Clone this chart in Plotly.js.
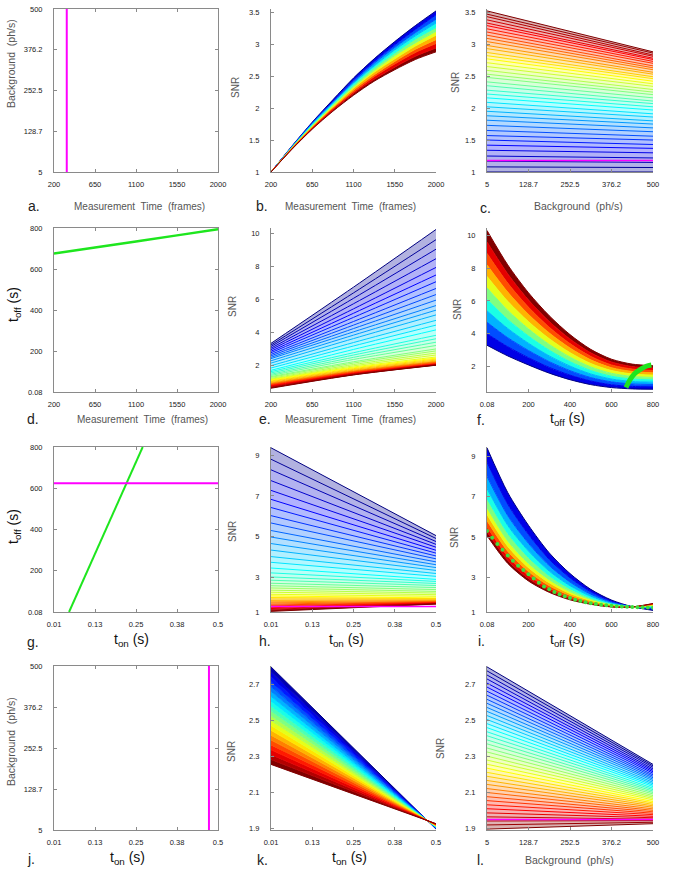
<!DOCTYPE html>
<html><head><meta charset="utf-8">
<script src="https://cdn.plot.ly/plotly-3.0.1.min.js"></script>
<style>html,body{margin:0;padding:0;background:#fff;}#chart{width:673px;height:877px;}</style>
</head><body><div id="chart"></div>
<script>
// ---------- tick sets ----------
const timeTicks=[200,650,1100,1550,2000], timeText=['200','650','1100','1550','2000'];
const bgTicks=[5,128.75,252.5,376.25,500], bgText=['5','128.7','252.5','376.2','500'];
const offTicks=[0.08,200.06,400.04,600.02,800], offText=['0.08','200','400','600','800'];
const onTicks=[0.01,0.1325,0.255,0.3775,0.5], onText=['0.01','0.13','0.25','0.38','0.5'];
const snrTicks1=[1,1.5,2,2.5,3,3.5], snrText1=['1','1.5','2','2.5','3','3.5'];
const snrTicks2=[2,4,6,8,10], snrText2=['2','4','6','8','10'];
const snrTicks3=[1.3,3,5,7,9], snrText3=['1','3','5','7','9'];
const snrTicks4=[1.9,2.1,2.3,2.5,2.7], snrText4=['1.9','2.1','2.3','2.5','2.7'];

// ---------- panel a ----------
const aTime=[340,340], aBg=[5,500];
// ---------- panel b : SNR vs measurement time, one line per background ----------
const bTime=[200,425,650,875,1100,1325,1550,1775,2000];
const bSNR=[
[1.00,1.40,1.78,2.13,2.47,2.77,3.04,3.29,3.52],
[1.00,1.395,1.77,2.11,2.44,2.73,2.99,3.23,3.46],
[1.00,1.39,1.76,2.09,2.41,2.70,2.95,3.18,3.39],
[1.00,1.385,1.75,2.08,2.39,2.66,2.91,3.13,3.33],
[1.00,1.38,1.74,2.06,2.36,2.63,2.86,3.08,3.26],
[1.00,1.375,1.725,2.04,2.33,2.59,2.82,3.02,3.20],
[1.00,1.37,1.71,2.02,2.31,2.56,2.77,2.97,3.14],
[1.00,1.365,1.70,2.00,2.28,2.52,2.73,2.92,3.07],
[1.00,1.36,1.69,1.99,2.25,2.49,2.69,2.87,3.01],
[1.00,1.355,1.68,1.97,2.23,2.45,2.64,2.81,2.94],
[1.00,1.35,1.67,1.95,2.20,2.42,2.60,2.76,2.88]];
// ---------- panel c : SNR vs background, one line per measurement time ----------
const cBg=[5,500];
const cLeft=[1.00,1.08,1.17,1.25,1.34,1.42,1.50,1.57,1.65,1.73,1.81,1.88,1.95,2.02,2.09,2.16,2.22,2.28,2.35,2.41,2.48,2.53,2.59,2.65,2.71,2.77,2.82,2.87,2.93,2.98,3.04,3.09,3.14,3.19,3.24,3.29,3.33,3.38,3.43,3.47,3.52];
const cRight=[1.00,1.07,1.15,1.22,1.30,1.37,1.43,1.50,1.56,1.63,1.69,1.75,1.80,1.86,1.91,1.97,2.02,2.07,2.11,2.16,2.21,2.25,2.29,2.34,2.38,2.42,2.46,2.49,2.53,2.56,2.60,2.63,2.66,2.70,2.73,2.76,2.78,2.81,2.83,2.86,2.88];
const cMagenta=[1.18,1.18];
// ---------- panel d ----------
const dTime=[200,650,1100,1550,2000], dOff=[675,705,734,764,794];
// ---------- panel e : SNR vs measurement time, one line per t_off ----------
const eTime=[200,1100,2000];
const eLeft=[3.33,3.23,3.14,3.04,2.95,2.85,2.76,2.66,2.57,2.48,2.40,2.27,2.13,1.97,1.83,1.69,1.61,1.53,1.45,1.38,1.31,1.26,1.20,1.15,1.12,1.09,1.04,1.00,0.95,0.91,0.87,0.85,0.82,0.79,0.76,0.74,0.71,0.68,0.65,0.63,0.60];
const eMid=[6.75,6.40,6.07,5.74,5.43,5.16,4.91,4.66,4.44,4.23,4.03,3.83,3.62,3.38,3.17,2.96,2.76,2.62,2.48,2.35,2.21,2.13,2.04,1.96,1.89,1.84,1.79,1.74,1.69,1.65,1.62,1.60,1.57,1.54,1.52,1.50,1.48,1.46,1.44,1.42,1.41];
const eRight=[10.26,9.64,9.06,8.48,7.95,7.49,7.08,6.67,6.30,5.96,5.63,5.35,5.06,4.73,4.44,4.15,3.82,3.61,3.40,3.20,2.99,2.87,2.74,2.62,2.50,2.43,2.37,2.31,2.25,2.21,2.18,2.16,2.12,2.10,2.08,2.06,2.04,2.03,2.02,2.01,2.00];
// ---------- panel f : SNR vs t_off, one curve per measurement time ----------
const fOff=[0.08,100,200,300,400,500,600,700,800];
const fSNR=[
[3.30,2.65,2.10,1.60,1.20,0.90,0.72,0.64,0.62],
[4.00,3.21,2.54,1.95,1.48,1.12,0.89,0.79,0.76],
[4.70,3.76,2.98,2.30,1.75,1.33,1.07,0.94,0.91],
[5.40,4.32,3.42,2.65,2.03,1.55,1.24,1.09,1.05],
[6.10,4.87,3.86,3.00,2.30,1.76,1.41,1.24,1.19],
[6.80,5.43,4.30,3.35,2.58,1.98,1.59,1.40,1.34],
[7.50,5.98,4.74,3.70,2.85,2.19,1.76,1.55,1.48],
[8.20,6.54,5.18,4.05,3.13,2.41,1.93,1.70,1.62],
[8.90,7.09,5.62,4.40,3.40,2.62,2.10,1.85,1.76],
[9.60,7.65,6.06,4.75,3.68,2.84,2.28,2.00,1.91],
[10.30,8.20,6.50,5.10,3.95,3.05,2.45,2.15,2.05]];
const fGreenOff=[670,687,711,743,767,792], fGreenSNR=[0.72,1.15,1.56,1.86,2.02,2.10];
// ---------- panel g ----------
const gOn=[0.055,0.275], gOff=[0.08,800];
const gMagOn=[0.01,0.5], gMagOff=[624,624];
// ---------- panel h : SNR vs t_on, one line per t_off ----------
const hOn=[0.01,0.5];
const hLeft=[9.36,8.80,8.28,7.75,7.27,6.83,6.43,6.03,5.67,5.30,4.98,4.66,4.34,4.02,3.74,3.46,3.22,3.02,2.86,2.71,2.59,2.48,2.37,2.27,2.17,2.09,2.01,1.94,1.87,1.80,1.75,1.69,1.64,1.60,1.55,1.51,1.47,1.43,1.39,1.36,1.33];
const hRight=[5.05,4.91,4.76,4.62,4.48,4.33,4.19,4.05,3.91,3.76,3.62,3.48,3.34,3.19,3.05,2.90,2.80,2.70,2.60,2.50,2.40,2.31,2.23,2.15,2.07,1.99,1.96,1.93,1.89,1.86,1.82,1.81,1.79,1.77,1.76,1.74,1.73,1.72,1.71,1.70,1.69];
const hMagenta=[1.57,1.57];
// ---------- panel i : SNR vs t_off, one curve per t_on ----------
const iOff=[0.08,100,200,300,400,500,600,700,800];
const iSNR=[
[9.41,7.20,5.58,4.22,3.20,2.42,1.89,1.56,1.38],
[8.70,6.63,5.13,3.90,2.99,2.30,1.83,1.56,1.44],
[8.00,6.06,4.69,3.59,2.78,2.18,1.78,1.56,1.49],
[7.40,5.58,4.31,3.32,2.60,2.08,1.73,1.56,1.54],
[6.90,5.18,3.99,3.09,2.45,1.99,1.69,1.55,1.58],
[6.45,4.81,3.70,2.89,2.31,1.92,1.66,1.55,1.61],
[6.11,4.54,3.49,2.74,2.21,1.86,1.63,1.55,1.64],
[5.81,4.30,3.30,2.60,2.12,1.81,1.61,1.55,1.66],
[5.50,4.05,3.11,2.47,2.03,1.75,1.58,1.55,1.69],
[5.26,3.85,2.95,2.36,1.95,1.71,1.56,1.55,1.71],
[5.07,3.70,2.83,2.27,1.90,1.68,1.55,1.55,1.72]];
const iGreenOff=[0.08,25,50,75,100,125,150,175,200,225,250,275,300,325,350,375,400,425,450,475,500,525,550,575,600,625,650,675,700,725,750,775,800];
const iGreenSNR=[5.30,4.97,4.66,4.37,4.09,3.83,3.59,3.37,3.16,2.95,2.74,2.56,2.42,2.29,2.18,2.08,1.99,1.91,1.84,1.78,1.73,1.69,1.66,1.63,1.61,1.59,1.57,1.56,1.55,1.54,1.53,1.52,1.51];
// ---------- panel j ----------
const jOn=[0.473,0.473], jBg=[5,500];
// ---------- panel k : SNR vs t_on, one line per background ----------
const kOn=[0.01,0.5];
const kLeft=[2.795,2.768,2.741,2.714,2.687,2.660,2.632,2.605,2.578,2.551,2.524,2.497,2.470,2.443,2.416,2.389,2.362,2.335,2.308,2.281,2.254];
const kRight=[1.895,1.897,1.898,1.900,1.901,1.903,1.904,1.906,1.907,1.909,1.910,1.912,1.913,1.915,1.916,1.918,1.919,1.921,1.922,1.924,1.925];
// ---------- panel l : SNR vs background, one line per t_on ----------
const lBg=[5,500];
const lLeft=[2.795,2.773,2.750,2.728,2.705,2.683,2.660,2.638,2.615,2.593,2.570,2.548,2.525,2.503,2.480,2.458,2.435,2.413,2.390,2.368,2.345,2.323,2.300,2.278,2.255,2.233,2.210,2.188,2.165,2.143,2.120,2.098,2.075,2.053,2.030,2.008,1.985,1.963,1.940,1.918,1.895];
const lRight=[2.254,2.246,2.238,2.229,2.221,2.213,2.205,2.196,2.188,2.180,2.172,2.164,2.155,2.147,2.139,2.131,2.122,2.114,2.106,2.098,2.090,2.081,2.073,2.065,2.057,2.048,2.040,2.032,2.024,2.016,2.007,1.999,1.991,1.983,1.975,1.966,1.958,1.950,1.942,1.933,1.925];
const lMagenta=[1.948,1.948];

// ================= rendering =================
const W=673,H=877;
const colsPx=[[54,218],[271,436],[487,653]];
const rowsPx=[[9,172],[228,392],[447,612],[666,830]];
const FONT='Liberation Sans, Arial, sans-serif';
const MAG='rgb(255,0,255)', GREEN='rgb(30,230,30)';

function jet(t){const c=v=>Math.round(255*Math.max(0,Math.min(1,v)));return [c(1.5-Math.abs(4*t-3)),c(1.5-Math.abs(4*t-2)),c(1.5-Math.abs(4*t-1))];}
function col(c,a){return a==null?`rgb(${c[0]},${c[1]},${c[2]})`:`rgba(${c[0]},${c[1]},${c[2]},${a})`;}
const ref=p=>p===1?['x','y']:['x'+p,'y'+p];

const traces=[];
function family(p,xs,rows,solid,shape){
  const [xa,ya]=ref(p); const n=rows.length;
  rows.forEach((ys,i)=>{
    const c=jet(i/(n-1));
    traces.push({x:xs,y:ys,xaxis:xa,yaxis:ya,mode:'lines',hoverinfo:'skip',
      line:{color:col(c),width:1,shape:shape||'linear',smoothing:0.8},
      fill:i===0?'none':'tonexty',fillcolor:solid?col(c):col(c,0.3)});
  });
}
function line(p,xs,ys,color,width,shape){
  const [xa,ya]=ref(p);
  traces.push({x:xs,y:ys,xaxis:xa,yaxis:ya,mode:'lines',hoverinfo:'skip',line:{color:color,width:width,shape:shape||'linear'}});
}
const pair=(L,R)=>L.map((v,i)=>[v,R[i]]);
const triple=(L,M,R)=>L.map((v,i)=>[v,M[i],R[i]]);

line(1,aTime,aBg,MAG,2);
family(2,bTime,bSNR,true,'spline');
family(3,cBg,pair(cLeft,cRight),false);
line(3,cBg,cMagenta,MAG,1.5);
line(4,dTime,dOff,GREEN,2.5,'spline');
family(5,eTime,triple(eLeft,eMid,eRight),false,'spline');
family(6,fOff,fSNR,true,'spline');
line(6,fGreenOff,fGreenSNR,GREEN,5,'spline');
line(7,gOn,gOff,GREEN,2);
line(7,gMagOn,gMagOff,MAG,2);
family(8,hOn,pair(hLeft,hRight),false);
line(8,hOn,hMagenta,MAG,1.5);
family(9,iOff,iSNR,true,'spline');
{const [xa,ya]=ref(9);traces.push({x:iGreenOff,y:iGreenSNR,xaxis:xa,yaxis:ya,mode:'markers',hoverinfo:'skip',marker:{color:'rgb(60,225,60)',size:4}});}
line(10,jOn,jBg,MAG,2);
family(11,kOn,pair(kLeft,kRight),true);
family(12,lBg,pair(lLeft,lRight),false);
line(12,lBg,lMagenta,MAG,1.5);

const panels=[
 {x:[200,2000],xt:[timeTicks,timeText],y:[5,500],yt:[bgTicks,bgText],box:true},
 {x:[200,2000],xt:[timeTicks,timeText],y:[1,3.55],yt:[snrTicks1,snrText1]},
 {x:[5,500],xt:[bgTicks,bgText],y:[1,3.55],yt:[snrTicks1,snrText1]},
 {x:[200,2000],xt:[timeTicks,timeText],y:[0.08,800],yt:[offTicks,offText],box:true},
 {x:[200,2000],xt:[timeTicks,timeText],y:[0.37,10.35],yt:[snrTicks2,snrText2]},
 {x:[0.08,800],xt:[offTicks,offText],y:[0.45,10.45],yt:[snrTicks2,snrText2]},
 {x:[0.01,0.5],xt:[onTicks,onText],y:[0.08,800],yt:[offTicks,offText],box:true},
 {x:[0.01,0.5],xt:[onTicks,onText],y:[1.3,9.4],yt:[snrTicks3,snrText3]},
 {x:[0.08,800],xt:[offTicks,offText],y:[1.3,9.45],yt:[snrTicks3,snrText3]},
 {x:[0.01,0.5],xt:[onTicks,onText],y:[5,500],yt:[bgTicks,bgText],box:true},
 {x:[0.01,0.5],xt:[onTicks,onText],y:[1.89,2.8],yt:[snrTicks4,snrText4]},
 {x:[5,500],xt:[bgTicks,bgText],y:[1.89,2.8],yt:[snrTicks4,snrText4]}
];
function baseAxis(box){return {showline:true,linecolor:'#8a8a8a',linewidth:1,mirror:box?'ticks':false,ticks:'inside',ticklen:3,tickcolor:'#8a8a8a',showgrid:false,zeroline:false,fixedrange:true,tickfont:{family:FONT,size:7.5,color:'#222'}};}
const layout={width:W,height:H,margin:{l:0,r:0,t:0,b:0},paper_bgcolor:'#fff',plot_bgcolor:'rgba(0,0,0,0)',showlegend:false,annotations:[]};
panels.forEach((P,idx)=>{
  const p=idx+1,c=idx%3,r=Math.floor(idx/3);const [xa,ya]=ref(p);
  layout[p===1?'xaxis':'xaxis'+p]=Object.assign(baseAxis(P.box),{domain:[colsPx[c][0]/W,colsPx[c][1]/W],range:P.x,tickvals:P.xt[0],ticktext:P.xt[1],anchor:ya,ticklabelstandoff:5});
  layout[p===1?'yaxis':'yaxis'+p]=Object.assign(baseAxis(P.box),{domain:[1-rowsPx[r][1]/H,1-rowsPx[r][0]/H],range:P.y,tickvals:P.yt[0],ticktext:P.yt[1],anchor:xa,ticklabelstandoff:9});
});
function ann(text,px,py,size,color,angle){layout.annotations.push({text:text,x:px/W,y:1-py/H,xref:'paper',yref:'paper',xanchor:'center',yanchor:'middle',showarrow:false,textangle:angle||0,font:{family:FONT,size:size,color:color}});}
const MT='Measurement  Time  (frames)', BG='Background  (ph/s)';
const TOFF='t<sub>off</sub> (s)', TON='t<sub>on</sub> (s)';
[['a.',34,206],['b.',262,206],['c.',485,208],['d.',33,419],['e.',265,419],['f.',481,420],['g.',33,642],['h.',265,641],['i.',481,641],['j.',31,859],['k.',262,860],['l.',480,860]].forEach(a=>ann(a[0],a[1],a[2],14,'#222'));
ann(MT,139,206,10,'#555');ann(MT,350,206,10,'#555');ann(BG,578,206,10.5,'#555');
ann(MT,142,419,10,'#555');ann(MT,350,419,10,'#555');ann(TOFF,567,419,14,'#111');
ann(TON,131,640,14,'#111');ann(TON,347,640,14,'#111');ann(TOFF,567,640,14,'#111');
ann(TON,127,858,14,'#111');ann(TON,349,858,14,'#111');ann(BG,569,860,10.5,'#555');
ann(BG,11,64,10.5,'#555',-90);ann('SNR',235,88,10,'#555',-90);ann('SNR',455,83,10,'#555',-90);
ann(TOFF,14,305,14,'#111',-90);ann('SNR',233,307,10,'#555',-90);ann('SNR',457,310,10,'#555',-90);
ann(TOFF,14,527,14,'#111',-90);ann('SNR',232,532,10,'#555',-90);ann('SNR',454,538,10,'#555',-90);
ann(BG,11,742,10.5,'#555',-90);ann('SNR',231,752,10,'#555',-90);ann('SNR',440,749,10,'#555',-90);

Plotly.newPlot('chart',traces,layout,{displayModeBar:false,staticPlot:true});
</script></body></html>
